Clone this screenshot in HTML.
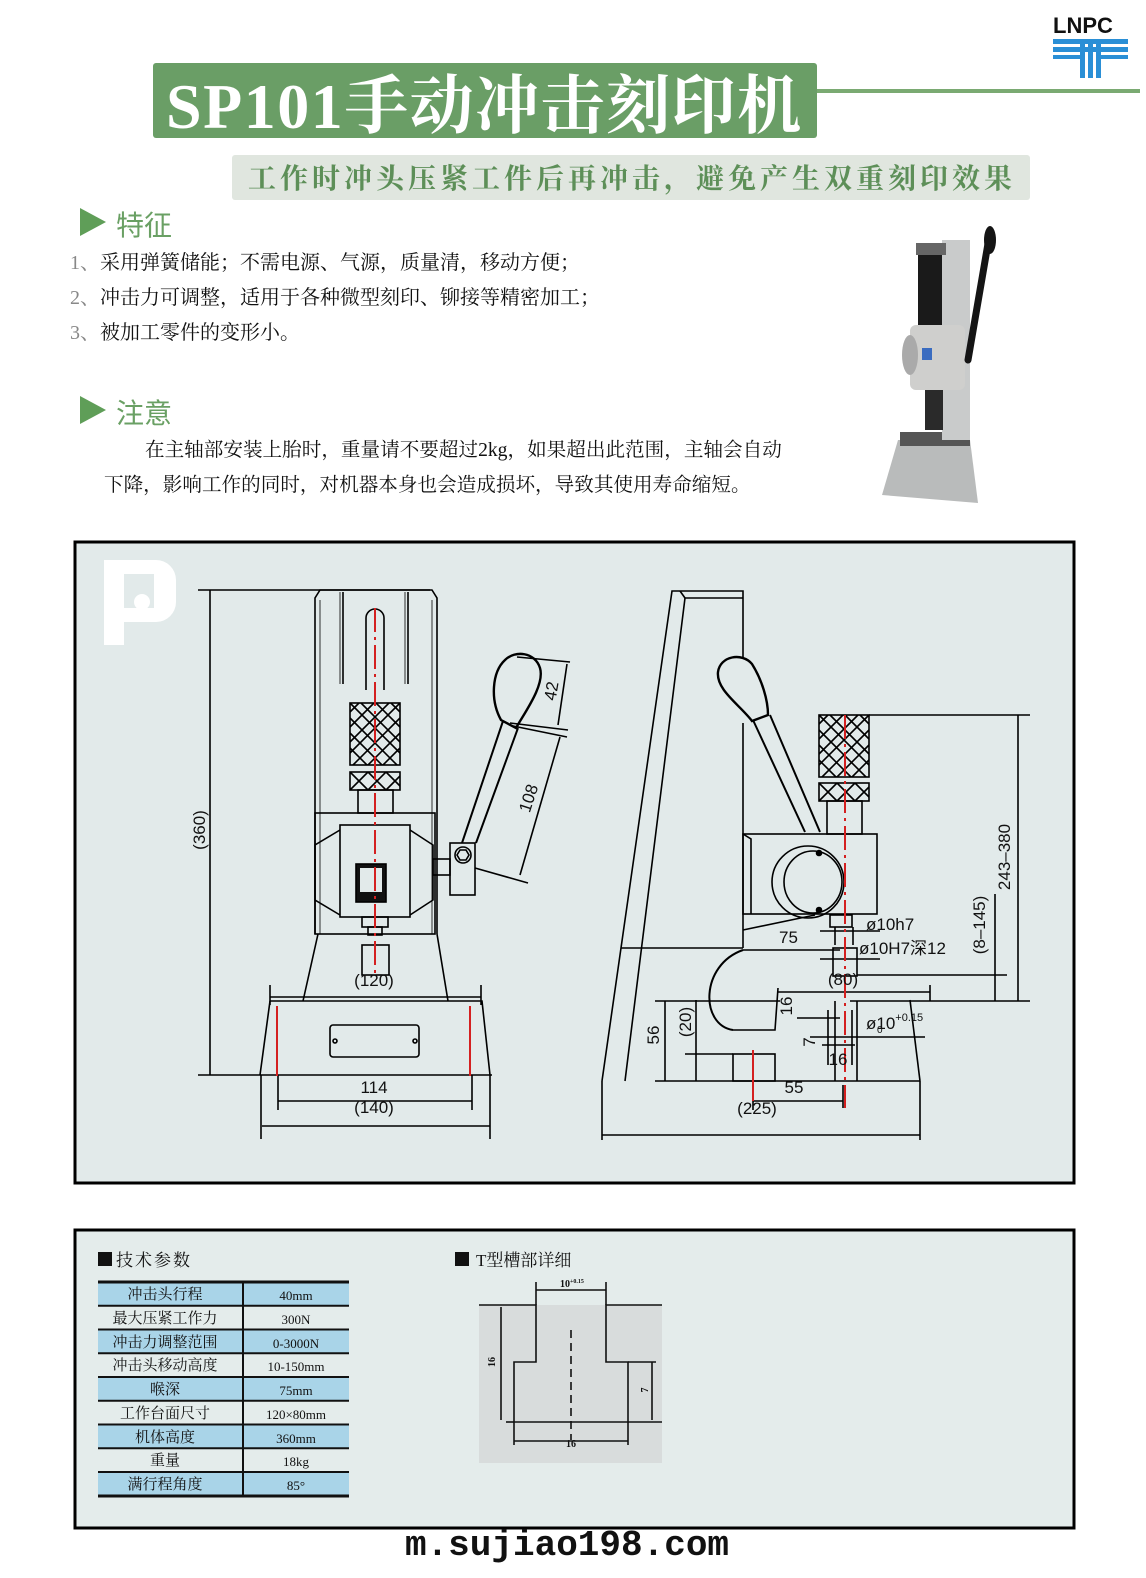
<!DOCTYPE html>
<html><head><meta charset="utf-8"><style>
html,body{margin:0;padding:0;background:#fff}
svg{display:block}
</style></head><body>
<svg width="1146" height="1578" viewBox="0 0 1146 1578" xmlns="http://www.w3.org/2000/svg" font-family="Liberation Sans, Noto Sans CJK SC, sans-serif">
<!-- header -->
<rect x="153" y="63" width="664" height="75" rx="3" fill="#6a9e66"/>
<text x="166" y="128" font-family="Liberation Serif, Noto Serif CJK SC, serif" font-size="64" font-weight="bold" letter-spacing="1.5" fill="#fff">SP101手动冲击刻印机</text>
<rect x="817" y="89" width="323" height="4" fill="#7aaa72"/>
<text x="1053" y="33" font-size="22" font-weight="bold" fill="#111">LNPC</text>
<g fill="#2a8fd6">
<rect x="1053" y="39" width="75" height="5"/><rect x="1053" y="47" width="75" height="5"/>
<rect x="1053" y="55" width="30" height="4"/><rect x="1098" y="55" width="30" height="4"/>
<rect x="1080" y="44" width="5" height="34"/><rect x="1088" y="44" width="5" height="34"/><rect x="1096" y="44" width="5" height="34"/>
</g>
<rect x="232" y="155" width="798" height="45" rx="3" fill="#e0e6df"/>
<text x="248" y="188" font-family="Liberation Serif, Noto Serif CJK SC, serif" font-size="28" font-weight="bold" fill="#5d8f58" letter-spacing="4">工作时冲头压紧工件后再冲击，避免产生双重刻印效果</text>
<!-- features -->
<polygon points="80,208 106,222 80,236" fill="#5f9e58"/>
<text x="116" y="235" font-size="28" fill="#6aa064">特征</text>
<g font-family="Liberation Serif, Noto Serif CJK SC, serif" font-size="20" fill="#111">
<text x="70" y="269"><tspan fill="#888">1、</tspan>采用弹簧储能；不需电源、气源，质量清，移动方便；</text>
<text x="70" y="304"><tspan fill="#888">2、</tspan>冲击力可调整，适用于各种微型刻印、铆接等精密加工；</text>
<text x="70" y="339"><tspan fill="#888">3、</tspan>被加工零件的变形小。</text>
</g>
<g font-family="Liberation Serif, Noto Serif CJK SC, serif" font-size="19.6" fill="#111">
<text x="145" y="456">在主轴部安装上胎时，重量请不要超过2kg，如果超出此范围，主轴会自动</text>
<text x="104" y="491">下降，影响工作的同时，对机器本身也会造成损坏，导致其使用寿命缩短。</text>
</g>
<polygon points="80,396 106,410 80,424" fill="#5f9e58"/>
<text x="116" y="423" font-size="28" fill="#6aa064">注意</text>
<!-- photo -->
<g>
<polygon points="898,440 970,440 978,503 882,495" fill="#b9bbbb"/>
<rect x="900" y="432" width="70" height="14" fill="#555"/>
<rect x="942" y="240" width="28" height="200" fill="#c9cbcb"/>
<rect x="916" y="243" width="30" height="12" fill="#666"/>
<rect x="918" y="255" width="24" height="75" fill="#1a1a1a"/>
<rect x="910" y="325" width="55" height="65" rx="6" fill="#cfcfcd"/>
<ellipse cx="910" cy="355" rx="8" ry="20" fill="#aaa"/>
<rect x="922" y="348" width="10" height="12" fill="#3a6cc0"/>
<rect x="925" y="390" width="18" height="40" fill="#2a2a2a"/>
<line x1="990" y1="232" x2="968" y2="360" stroke="#151515" stroke-width="7" stroke-linecap="round"/>
<ellipse cx="990" cy="240" rx="6" ry="14" fill="#151515"/>
</g>
<!-- drawing panel -->
<rect x="75" y="542" width="999" height="641" fill="#e2eaea" stroke="#000" stroke-width="3"/>
<g fill="#fff"><rect x="104" y="560" width="20" height="85"/><path d="M124 560 h32 a20 20 0 0 1 20 20 v22 a20 20 0 0 1 -20 20 h-32 v-14 h30 v-34 h-30z"/><circle cx="142" cy="602" r="8"/></g>

<g stroke="#000" stroke-width="1.6" fill="none">
<!-- LEFT VIEW -->
<line x1="198" y1="590" x2="430" y2="590"/>
<line x1="210" y1="590" x2="210" y2="1075"/>
<line x1="198" y1="1075" x2="492" y2="1075"/>
<path d="M315 934 V598 l5 -8 h112 l5 8 V934"/>
<line x1="320" y1="600" x2="320" y2="934" stroke-width="0.8"/>
<line x1="432" y1="600" x2="432" y2="934" stroke-width="0.8"/>
<line x1="343" y1="592" x2="343" y2="684"/><line x1="408" y1="592" x2="408" y2="684"/>
<line x1="340" y1="592" x2="340" y2="684" stroke-width="0.8"/><line x1="405" y1="592" x2="405" y2="684" stroke-width="0.8"/>
<path d="M366 690 V618 a9 9 0 0 1 18 0 V690"/>
<rect x="350" y="703" width="50" height="62" fill="#e2eaea"/>
<rect x="350" y="772" width="50" height="18"/>
<path d="M350 703 l50 50 M350 718 l47 47 M350 733 l32 32 M350 748 l17 17 M361 703 l39 39 M376 703 l24 24 M391 703 l9 9 M400 703 l-50 50 M400 718 l-47 47 M400 733 l-32 32 M400 748 l-17 17 M389 703 l-39 39 M374 703 l-24 24 M359 703 l-9 9 M350 772 l18 18 M368 772 l18 18 M386 772 l14 14 M368 790 l18 -18 M386 790 l14 -14 M350 790 l18 -18"/>
<rect x="358" y="790" width="35" height="23"/>
<rect x="315" y="813" width="120" height="121"/>
<rect x="340" y="825" width="70" height="92" fill="#e2eaea"/>
<path d="M340 830 l-25 15 v55 l25 15 M410 830 l23 15 v55 l-23 15"/>
<rect x="356" y="864" width="30" height="38" fill="#111"/>
<rect x="360" y="868" width="22" height="24" fill="#e2eaea" stroke="none"/>
<rect x="362" y="917" width="26" height="10"/><rect x="368" y="927" width="14" height="8"/>
<rect x="362" y="945" width="27" height="30"/>
<path d="M318 934 L303 1001 M437 934 L448 1001"/>
<path d="M270 1001 H482 L490 1075 M270 1001 L260 1075"/>
<line x1="270" y1="997" x2="481" y2="997"/>
<line x1="270" y1="985" x2="270" y2="1005"/><line x1="481" y1="985" x2="481" y2="1005"/>
<rect x="330" y="1025" width="89" height="32" rx="3"/>
<circle cx="335" cy="1041" r="2"/><circle cx="415" cy="1041" r="2"/>
<line x1="278" y1="1101" x2="472" y2="1101"/><line x1="262" y1="1126" x2="490" y2="1126"/>
<line x1="278" y1="1075" x2="278" y2="1110"/><line x1="472" y1="1075" x2="472" y2="1110"/>
<line x1="261" y1="1075" x2="261" y2="1139"/><line x1="490" y1="1075" x2="490" y2="1139"/>
<!-- handle -->
<path d="M503 721 L462 843 M518 728 L476 843" stroke-width="2"/>
<path d="M501 720 C490 700 492 672 505 660 C515 650 535 652 540 668 C545 685 525 712 516 728 Z" stroke-width="2.4" fill="#e2eaea"/>
<rect x="450" y="843" width="25" height="52"/>
<circle cx="463" cy="855" r="8"/><polygon points="457,855 460,850 466,850 469,855 466,860 460,860"/>
<rect x="433" y="859" width="17" height="16"/>
<line x1="517" y1="657" x2="570" y2="662"/><line x1="567" y1="664" x2="558" y2="725"/>
<line x1="510" y1="723" x2="568" y2="730"/><line x1="513" y1="726" x2="567" y2="737"/>
<line x1="560" y1="737" x2="520" y2="875"/><line x1="475" y1="868" x2="528" y2="883"/>

<!-- RIGHT VIEW -->
<path d="M602 1081 L672 591 H743 V661"/>
<path d="M625 1081 L685 598 H743"/>
<line x1="680" y1="591" x2="685" y2="598"/>
<line x1="743" y1="723" x2="743" y2="948"/>
<line x1="621" y1="948" x2="743" y2="948"/>
<rect x="743" y="834" width="134" height="80"/>
<path d="M743 834 l8 5 V914"/>
<line x1="743" y1="930" x2="815" y2="915"/>
<circle cx="808" cy="882" r="36"/>
<ellipse cx="813" cy="882" rx="29" ry="31"/>
<circle cx="819" cy="853" r="2.5" fill="#000"/><circle cx="819" cy="910" r="2.5" fill="#000"/>
<path d="M753 720 L805 832 M770 715 L820 832" stroke-width="2"/>
<path d="M752 721 C740 705 716 690 718 672 C720 656 742 652 752 664 C762 680 768 700 768 715 Z" stroke-width="2.4" fill="#e2eaea"/>
<rect x="819" y="715" width="50" height="62" fill="#e2eaea"/>
<rect x="819" y="783" width="50" height="18"/>
<path d="M819 715 l50 50 M819 730 l47 47 M819 745 l32 32 M819 760 l17 17 M830 715 l39 39 M845 715 l24 24 M860 715 l9 9 M869 715 l-50 50 M869 730 l-47 47 M869 745 l-32 32 M869 760 l-17 17 M858 715 l-39 39 M843 715 l-24 24 M828 715 l-9 9 M819 783 l18 18 M837 783 l18 18 M855 783 l14 14 M837 801 l18 -18 M855 801 l14 -14 M819 801 l18 -18"/>
<rect x="827" y="801" width="35" height="33"/>
<line x1="869" y1="715" x2="1030" y2="715"/>
<line x1="1018" y1="715" x2="1018" y2="1001"/>
<line x1="995" y1="894" x2="995" y2="1001"/>
<line x1="857" y1="975" x2="1007" y2="975"/>
<line x1="655" y1="1001" x2="780" y2="1001"/><line x1="850" y1="1001" x2="1030" y2="1001"/>
<rect x="830" y="915" width="22" height="12"/>
<rect x="833" y="948" width="24" height="28"/>
<line x1="820" y1="931" x2="880" y2="931"/><line x1="820" y1="959" x2="880" y2="959"/>
<line x1="835" y1="927" x2="835" y2="945"/><line x1="853" y1="927" x2="853" y2="945"/>
<line x1="743" y1="950" x2="840" y2="950"/>
<path d="M743 950 C700 965 700 1025 733 1030" stroke-width="2"/>
<path d="M733 1030 H775 L778 988"/>
<rect x="733" y="1054" width="42" height="27"/>
<line x1="777" y1="992" x2="930" y2="992"/>
<line x1="930" y1="985" x2="930" y2="1001"/>
<path d="M835 1001 V1081 M857 1001 V1081 M828 1010 V1065 M852 1010 V1065"/>
<line x1="797" y1="1018" x2="840" y2="1018"/><line x1="810" y1="1037" x2="925" y2="1037"/>
<line x1="822" y1="1045" x2="855" y2="1045"/>
<line x1="655" y1="1081" x2="920" y2="1081"/>
<path d="M910 1000 L920 1081"/>
<line x1="665" y1="1001" x2="665" y2="1081"/><line x1="696" y1="1000" x2="696" y2="1081"/>
<line x1="685" y1="1054" x2="733" y2="1054"/>
<line x1="753" y1="1101" x2="843" y2="1101"/>
<line x1="753" y1="1085" x2="753" y2="1110"/><line x1="843" y1="1085" x2="843" y2="1108"/>
<line x1="602" y1="1135" x2="920" y2="1135"/>
<line x1="602" y1="1081" x2="602" y2="1140"/><line x1="920" y1="1081" x2="920" y2="1140"/>
</g>
<!-- red centerlines -->
<g stroke="#d42020" stroke-width="2">
<line x1="375" y1="608" x2="375" y2="975" stroke-dasharray="24 5 3 5"/>
<line x1="277" y1="1006" x2="277" y2="1076"/><line x1="470" y1="1006" x2="470" y2="1076"/>
<line x1="845" y1="715" x2="845" y2="1108" stroke-dasharray="24 5 3 5"/>
<line x1="753" y1="1050" x2="753" y2="1101"/>
</g>
<g font-size="17" fill="#111">
<text x="374" y="986" text-anchor="middle">(120)</text>
<text x="374" y="1093" text-anchor="middle">114</text>
<text x="374" y="1113" text-anchor="middle">(140)</text>
<text transform="translate(205,830) rotate(-90)" text-anchor="middle">(360)</text>
<text transform="translate(557,692) rotate(-80)" text-anchor="middle">42</text>
<text transform="translate(534,800) rotate(-72)" text-anchor="middle">108</text>
<text x="866" y="930">ø10h7</text>
<text x="859" y="954">ø10H7深12</text>
<text x="779" y="943">75</text>
<text x="843" y="985" text-anchor="middle">(80)</text>
<text transform="translate(792,1006) rotate(-90)" text-anchor="middle">16</text>
<text x="866" y="1029">ø10<tspan font-size="11" dy="-8">+0.15</tspan></text>
<text x="877" y="1033" font-size="10">0</text>
<text transform="translate(815,1042) rotate(-90)" text-anchor="middle">7</text>
<text x="838" y="1065" text-anchor="middle">16</text>
<text transform="translate(659,1035) rotate(-90)" text-anchor="middle">56</text>
<text transform="translate(691,1022) rotate(-90)" text-anchor="middle">(20)</text>
<text x="794" y="1093" text-anchor="middle">55</text>
<text x="757" y="1114" text-anchor="middle">(225)</text>
<text transform="translate(1010,857) rotate(-90)" text-anchor="middle">243–380</text>
<text transform="translate(985,925) rotate(-90)" text-anchor="middle">(8–145)</text>
</g>
<!-- bottom panel -->
<rect x="75" y="1230" width="999" height="298" fill="#e4eceb" stroke="#000" stroke-width="3"/>
<g font-family="Liberation Serif, Noto Serif CJK SC, serif" fill="#111">
<rect x="98" y="1252" width="14" height="14" fill="#111"/>
<text x="116" y="1266" font-size="17" letter-spacing="2">技术参数</text>
<rect x="455" y="1252" width="14" height="14" fill="#111"/>
<text x="476" y="1266" font-size="17">T型槽部详细</text>
</g>
<g>
<rect x="98" y="1282" width="251" height="23.75" fill="#a9d4e8"/>
<rect x="98" y="1329.5" width="251" height="23.75" fill="#a9d4e8"/>
<rect x="98" y="1377" width="251" height="23.75" fill="#a9d4e8"/>
<rect x="98" y="1424.5" width="251" height="23.75" fill="#a9d4e8"/>
<rect x="98" y="1472" width="251" height="23.75" fill="#a9d4e8"/>
<g stroke="#111" stroke-width="2">
<line x1="98" y1="1282" x2="349" y2="1282" stroke-width="3"/>
<line x1="98" y1="1305.75" x2="349" y2="1305.75"/><line x1="98" y1="1329.5" x2="349" y2="1329.5"/>
<line x1="98" y1="1353.25" x2="349" y2="1353.25"/><line x1="98" y1="1377" x2="349" y2="1377"/>
<line x1="98" y1="1400.75" x2="349" y2="1400.75"/><line x1="98" y1="1424.5" x2="349" y2="1424.5"/>
<line x1="98" y1="1448.25" x2="349" y2="1448.25"/><line x1="98" y1="1472" x2="349" y2="1472"/>
<line x1="98" y1="1496" x2="349" y2="1496" stroke-width="3"/>
<line x1="243" y1="1282" x2="243" y2="1496"/>
</g>
<g font-family="Liberation Serif, Noto Serif CJK SC, serif" font-size="15" fill="#111" text-anchor="middle">
<text x="165" y="1299">冲击头行程</text><text x="296" y="1300" font-size="13">40mm</text>
<text x="165" y="1323">最大压紧工作力</text><text x="296" y="1324" font-size="13">300N</text>
<text x="165" y="1347">冲击力调整范围</text><text x="296" y="1348" font-size="13">0-3000N</text>
<text x="165" y="1370">冲击头移动高度</text><text x="296" y="1371" font-size="13">10-150mm</text>
<text x="165" y="1394">喉深</text><text x="296" y="1395" font-size="13">75mm</text>
<text x="165" y="1418">工作台面尺寸</text><text x="296" y="1419" font-size="13">120×80mm</text>
<text x="165" y="1442">机体高度</text><text x="296" y="1443" font-size="13">360mm</text>
<text x="165" y="1465">重量</text><text x="296" y="1466" font-size="13">18kg</text>
<text x="165" y="1489">满行程角度</text><text x="296" y="1490" font-size="13">85°</text>
</g>
</g>
<!-- T slot -->
<rect x="479" y="1305" width="183" height="158" fill="#d8dcdc"/>
<g stroke="#111" stroke-width="1.6" fill="none">
<path d="M479 1305 H536 V1362 H514 V1422 H628 V1362 H606 V1305 H662"/>
<line x1="506" y1="1422" x2="514" y2="1422"/><line x1="628" y1="1422" x2="662" y2="1422"/>
<line x1="514" y1="1422" x2="514" y2="1445"/><line x1="628" y1="1422" x2="628" y2="1445"/>
<line x1="514" y1="1441" x2="628" y2="1441"/>
<line x1="501" y1="1307" x2="501" y2="1420"/>
<line x1="652" y1="1362" x2="652" y2="1420"/><line x1="628" y1="1362" x2="656" y2="1362"/>
<line x1="536" y1="1282" x2="536" y2="1305"/><line x1="606" y1="1282" x2="606" y2="1305"/>
<line x1="536" y1="1290" x2="606" y2="1290"/>
<line x1="571" y1="1330" x2="571" y2="1440" stroke-dasharray="8 5"/>
</g>
<g font-family="Liberation Serif, serif" font-size="10" font-weight="bold" fill="#111">
<text x="560" y="1287">10<tspan font-size="6" dy="-4">+0.15</tspan></text>
<text x="571" y="1447" text-anchor="middle">16</text>
<text transform="translate(495,1362) rotate(-90)" text-anchor="middle">16</text>
<text transform="translate(648,1390) rotate(-90)" text-anchor="middle">7</text>
</g>
<text x="567" y="1555" text-anchor="middle" font-family="Liberation Mono, monospace" font-size="36" font-weight="bold" fill="#111">m.sujiao198.com</text>
</svg>
</body></html>
